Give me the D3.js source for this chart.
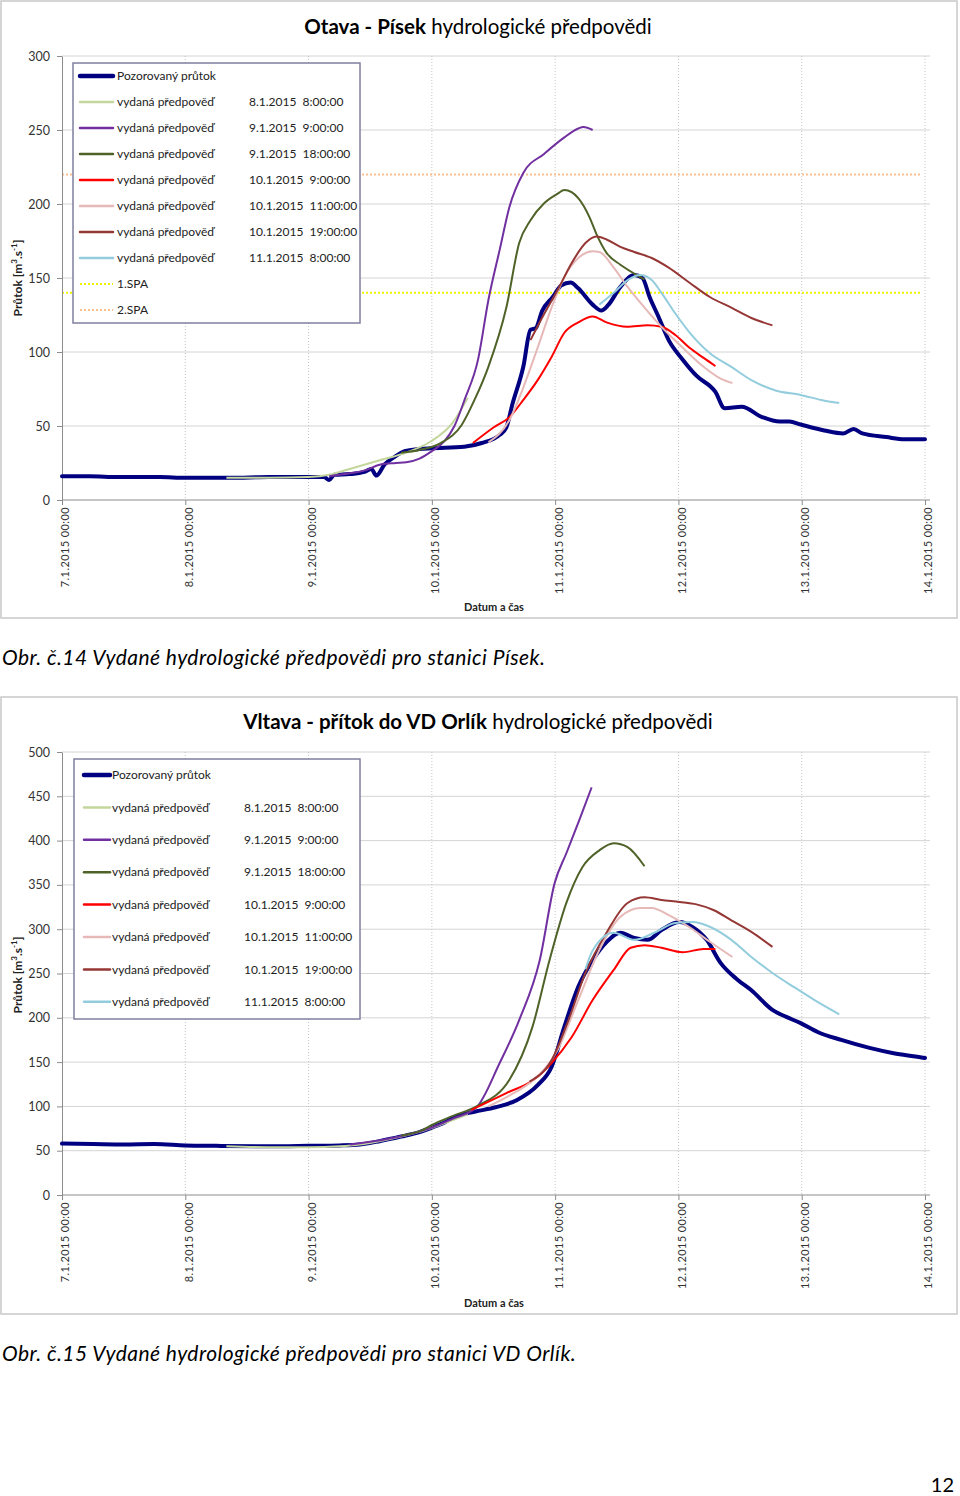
<!DOCTYPE html>
<html><head><meta charset="utf-8">
<script src="https://cdn.jsdelivr.net/npm/d3@7/dist/d3.min.js"></script>
<style>
body{margin:0;background:#fff;}
svg{display:block;}
text{font-family:Lato,"Open Sans",sans-serif;}
</style></head><body>
<svg id="c" width="960" height="1496"></svg>
<script>
// ---------- shared data ----------
const dayHours = [0, 24, 48, 72, 96, 120, 144, 168];
const dayLabels = ["7.1.2015 00:00","8.1.2015 00:00","9.1.2015 00:00","10.1.2015 00:00","11.1.2015 00:00","12.1.2015 00:00","13.1.2015 00:00","14.1.2015 00:00"];
const obsLabel = "Pozorovaný průtok";
const fcLabel = "vydaná předpověď";
const issueLabels = ["8.1.2015  8:00:00","9.1.2015  9:00:00","9.1.2015  18:00:00","10.1.2015  9:00:00","10.1.2015  11:00:00","10.1.2015  19:00:00","11.1.2015  8:00:00"];
const spaLabels = ["1.SPA","2.SPA"];

// ---------- Otava - Písek (hours since 7.1.2015 00:00, m3/s) ----------
const pisekObs = [[0,16],[5.4,16],[11,15.5],[19,15.5],[24,15],[32.6,15],[40.4,15.5],[48,15.5],[51,15.5],[52,13.5],[53,17],[56,17.5],[58.9,19],[60.2,21],[61.2,16.5],[62.8,24],[64.7,29],[66.7,33],[69.6,34.5],[72,35],[78.3,36],[81.7,38.5],[85.2,44],[86.5,49],[87.7,65],[89.8,90],[91.2,115],[92.2,116],[93.5,128],[95.5,137],[97.2,145],[99,147],[100.5,143],[103.3,132],[105,128],[106.4,132],[108.7,144],[111.4,152],[113,150],[114.4,137],[116.1,124],[118.1,108],[120.8,95],[123.5,84],[127.2,73],[129,62],[132.3,63],[136.3,56],[139.7,53],[141.6,53],[143.8,51],[148.4,47],[152.1,45],[154.1,48],[155.8,45],[160.5,42.5],[164,41],[168,41]];
const pisekF1 = [[32,15],[40,15],[48,15.5],[52,17],[56,21],[62,27],[67,32],[72,40],[76,52],[79,69]];
const pisekF2 = [[52,16],[56,18],[59,20],[62,24],[65,25],[67,25.5],[69.6,28],[72,33],[74.5,40],[76.4,50],[78.4,68],[81,95],[83,135],[85.2,169],[87.1,198],[89.8,221],[93.9,234],[97.8,245],[100.5,251],[101.5,252],[103.3,250]];
const pisekF3 = [[66,32],[69.6,33.8],[73.7,38.5],[77.8,50.7],[80.3,67.6],[83,90],[86.5,130],[89,173.6],[91.2,189],[93.9,200.7],[96.5,207],[97.8,209.5],[99.2,208],[100.5,204],[102.7,191],[104,180],[106,167],[108.7,159],[111.4,153],[113.4,149]];
const pisekF4 = [[80,38.5],[84,49],[87.1,56],[89.8,67.6],[92.6,81],[95.3,96.6],[97.8,113],[100.5,120],[103.3,124],[106,120],[110,117],[114,118],[116.7,117],[119.4,111.5],[122.1,103],[124.9,96],[127.2,90.5]];
const pisekF5 = [[83,39],[87.1,54],[89.8,76],[92.6,103],[95.3,130],[97.8,150.7],[100.5,163.5],[103.3,168],[104.6,167.6],[107.4,157],[110.1,144],[113.4,130],[116.7,117],[120.8,103],[124.9,90],[128.2,82],[130.5,79]];
const pisekF6 = [[91.2,108],[93.9,126],[96.5,142],[99.2,160],[101.9,173.6],[104,178],[106,176],[108.7,171],[111.4,167.6],[114.8,163.5],[118.1,157],[122.1,147],[126.2,137],[130.3,130],[134.2,123],[138.3,118]];
const pisekF7 = [[104.6,132],[107.4,140],[110.1,148.6],[112.6,152],[114.8,148.6],[116.7,140],[119.4,126],[122.1,113.5],[126.2,99],[130.3,90],[134.2,81],[138.9,74],[143.8,71],[147.8,67.6],[151.3,65.5]];
const pisekSpa = [140, 220];

// ---------- Vltava - přítok do VD Orlík ----------
const orlikObs = [[0,58],[6,57.5],[12,57],[18,57.5],[24,56],[30,55.5],[40,55],[48,55.5],[54,56],[58,57],[62,61],[66,66],[69.6,71],[72,76],[74.5,82],[76.4,88],[80.3,94],[84.4,99],[88.5,107],[92.6,124],[95.3,144.5],[97.8,190],[100.5,235],[103.3,265],[106,285.5],[108.7,296],[111.4,290],[114,288],[116.7,299],[120.2,308],[122.7,302.5],[125.5,288],[128.2,262],[131.5,243],[134.2,231],[138.3,209],[141,201],[143.8,194],[147.1,184],[151.7,175],[157.2,166],[161.9,160],[166.5,156],[168,154.6]];
const orlikF1 = [[32,55],[40,54],[48,54],[54,55],[58,57],[62,61],[66,66],[70,72],[74,80],[79,91]];
const orlikF2 = [[56,57],[60,60],[64,64],[68,69],[72,76],[76,86],[80.7,99],[85.2,149],[89,197.5],[93,265],[95.9,352],[98.2,386],[100.7,423],[103.1,460]];
const orlikF3 = [[66,67],[70,73],[72,79],[76,89],[80.7,100],[87.1,130],[91.6,190],[94.9,265],[98.2,330],[101.3,370],[104.6,389],[107.4,397],[110.1,392.6],[113.4,371]];
const orlikF4 = [[79.7,96],[86.5,115],[91.8,130],[95.3,149],[99.2,178],[103.3,220],[107.4,254],[110.7,279],[113.4,282],[116.7,279],[120.8,274],[124.9,277.6],[127.2,277.6]];
const orlikF5 = [[83,100],[87,112],[91.8,130],[96.5,164],[100.5,220],[104.6,276.5],[108.7,314],[112.6,324],[114.8,324],[118.1,316],[122.1,302.5],[126.2,285.5],[130.5,268.6]];
const orlikF6 = [[91,128],[95.3,152],[98.6,197.5],[101.9,250.6],[106,296],[110.1,329.6],[113.4,336],[116.7,333],[120.2,330.7],[123.5,328],[126.8,321.7],[130.3,310],[134.2,297],[138.3,280]];
const orlikF7 = [[101.9,255],[103.3,276],[107.4,296],[111.4,288],[115.3,296],[119.4,307],[122.7,308],[126.2,302.5],[130.3,288],[134.2,268.6],[138.3,250.6],[142.4,235],[146.5,220],[151.3,204]];

// ---------- styles ----------
const fcColors = ["#c3d69b","#7030a0","#4f6228","#ff0000","#e6b9b8","#953735","#93cddd"];
const obsColor = "#000080";
const spaColors = ["#f2f200","#fac090"];

const svg = d3.select("#c");

function drawChart(o) {
  const g = svg.append("g");
  g.append("rect").attr("x", o.frame[0]).attr("y", o.frame[1]).attr("width", o.frame[2]).attr("height", o.frame[3])
    .attr("fill", "#fff").attr("stroke", "#c8c8c8").attr("stroke-width", 1.5);

  const x = d3.scaleLinear().domain([0, 168]).range([62, 925]);
  const y = d3.scaleLinear().domain([0, o.yMax]).range([o.y0, o.yTop]);
  const yt = d3.range(0, o.yMax + 1, 50);

  // gridlines
  g.selectAll(".hg").data(yt.slice(1)).join("line")
    .attr("x1", 62).attr("x2", 930).attr("y1", d => y(d)).attr("y2", d => y(d))
    .attr("stroke", "#d4d4d4").attr("stroke-width", 1);
  g.selectAll(".vg").data(dayHours.slice(1)).join("line")
    .attr("x1", d => x(d)).attr("x2", d => x(d)).attr("y1", o.yTop).attr("y2", o.y0)
    .attr("stroke", "#c4c4c4").attr("stroke-width", 1).attr("stroke-dasharray", "1,2");

  // SPA lines
  (o.spa || []).forEach((v, i) => {
    g.append("line").attr("x1", 62).attr("x2", 922).attr("y1", y(v)).attr("y2", y(v))
      .attr("stroke", spaColors[i]).attr("stroke-width", 2).attr("stroke-dasharray", "2,2");
  });

  // axes
  const ya = g.append("g").attr("transform", "translate(62,0)")
    .call(d3.axisLeft(y).tickValues(yt).tickSize(5).tickSizeOuter(0).tickPadding(7).tickFormat(d3.format("d")));
  ya.select(".domain").attr("stroke", "#8c8c8c");
  ya.selectAll(".tick line").attr("stroke", "#8c8c8c");
  ya.selectAll(".tick text").attr("font-size", 12.5).attr("fill", "#333").style("font-family", "Lato");

  const xa = g.append("g").attr("transform", `translate(0,${o.y0})`)
    .call(d3.axisBottom(x).tickValues(dayHours).tickSize(5).tickSizeOuter(0).tickFormat((d, i) => dayLabels[i]));
  xa.select(".domain").attr("stroke", "#8c8c8c").attr("d", `M62,0H930`);
  xa.selectAll(".tick line").attr("stroke", "#8c8c8c");
  xa.selectAll(".tick text").attr("font-size", 11).attr("fill", "#333").style("font-family", "Lato")
    .attr("text-anchor", "end").attr("transform", "translate(3,7) rotate(-90)")
    .attr("x", 0).attr("y", 0).attr("dy", "0.35em").style("letter-spacing", "0.4px");

  // series
  const line = d3.line().x(d => x(d[0])).y(d => y(d[1])).curve(d3.curveMonotoneX);
  g.append("path").datum(o.obs).attr("d", line).attr("fill", "none")
    .attr("stroke", obsColor).attr("stroke-width", 4).attr("stroke-linejoin", "round").attr("stroke-linecap", "round");
  o.fc.forEach((s, i) => {
    g.append("path").datum(s).attr("d", line).attr("fill", "none")
      .attr("stroke", fcColors[i]).attr("stroke-width", 2).attr("stroke-linejoin", "round");
  });

  // title
  const t = g.append("text").attr("x", 478).attr("y", o.titleY).attr("text-anchor", "middle").attr("font-size", 20.5).attr("fill", "#000");
  t.append("tspan").attr("font-weight", "bold").text(o.titleBold);
  t.append("tspan").text(" hydrologické předpovědi");

  // axis titles
  const yl = g.append("text").attr("transform", `translate(22,${o.yLabelY}) rotate(-90)`).attr("text-anchor", "middle")
    .attr("font-size", 12).attr("font-weight", "bold").attr("fill", "#222");
  yl.append("tspan").text("Průtok [m");
  yl.append("tspan").attr("baseline-shift", "super").attr("font-size", 8).text("3");
  yl.append("tspan").text(".s");
  yl.append("tspan").attr("baseline-shift", "super").attr("font-size", 8).text("-1");
  yl.append("tspan").text("]");
  g.append("text").attr("x", 494).attr("y", o.xLabelY).attr("text-anchor", "middle").attr("font-size", 11)
    .attr("font-weight", "bold").attr("fill", "#222").text("Datum a čas");

  // legend
  const L = o.legend;
  g.append("rect").attr("x", L.x).attr("y", L.y).attr("width", L.w).attr("height", L.h)
    .attr("fill", "#fff").attr("stroke", "#7f7f9f").attr("stroke-width", 1.5);
  const items = [{label: obsLabel, date: "", color: obsColor, w: 4.5, dash: null}]
    .concat(issueLabels.map((d, i) => ({label: fcLabel, date: d, color: fcColors[i], w: 2.5, dash: null})))
    .concat((o.spa || []).map((v, i) => ({label: spaLabels[i], date: "", color: spaColors[i], w: 2, dash: "2,2"})));
  items.forEach((it, i) => {
    const yy = L.row0 + i * L.step;
    g.append("line").attr("x1", L.lx0).attr("x2", L.lx1).attr("y1", yy).attr("y2", yy)
      .attr("stroke", it.color).attr("stroke-width", it.w).attr("stroke-linecap", it.dash ? "butt" : "round")
      .attr("stroke-dasharray", it.dash);
    g.append("text").attr("x", L.tx).attr("y", yy).attr("dy", "0.35em").attr("font-size", 12).attr("fill", "#222").text(it.label);
    if (it.date) g.append("text").attr("x", L.dx).attr("y", yy).attr("dy", "0.35em").attr("font-size", 12)
      .attr("fill", "#222").style("white-space", "pre").text(it.date);
  });
}

drawChart({
  frame: [1, 1, 956, 617], yMax: 300, y0: 500, yTop: 56, titleBold: "Otava - Písek", titleY: 34,
  yLabelY: 278, xLabelY: 611, obs: pisekObs,
  fc: [pisekF1, pisekF2, pisekF3, pisekF4, pisekF5, pisekF6, pisekF7], spa: pisekSpa,
  legend: {x: 73, y: 63, w: 287, h: 260, row0: 76, step: 26, lx0: 80, lx1: 113, tx: 117, dx: 249}
});
drawChart({
  frame: [1, 697, 956, 617], yMax: 500, y0: 1195, yTop: 752, titleBold: "Vltava - přítok do VD Orlík", titleY: 729,
  yLabelY: 975, xLabelY: 1307, obs: orlikObs,
  fc: [orlikF1, orlikF2, orlikF3, orlikF4, orlikF5, orlikF6, orlikF7], spa: null,
  legend: {x: 74, y: 759, w: 286, h: 260, row0: 775, step: 32.4, lx0: 84, lx1: 110, tx: 112, dx: 244}
});

// captions
svg.append("text").attr("x", 2).attr("y", 665).attr("font-size", 21).attr("font-style", "italic").attr("fill", "#000")
  .style("letter-spacing", "0.45px").text("Obr. č.14 Vydané hydrologické předpovědi pro stanici Písek.");
svg.append("text").attr("x", 2).attr("y", 1361).attr("font-size", 21).attr("font-style", "italic").attr("fill", "#000")
  .style("letter-spacing", "0.45px").text("Obr. č.15 Vydané hydrologické předpovědi pro stanici VD Orlík.");
svg.append("text").attr("x", 954).attr("y", 1492).attr("text-anchor", "end").attr("font-size", 20).attr("fill", "#000").text("12");
</script>
</body></html>
